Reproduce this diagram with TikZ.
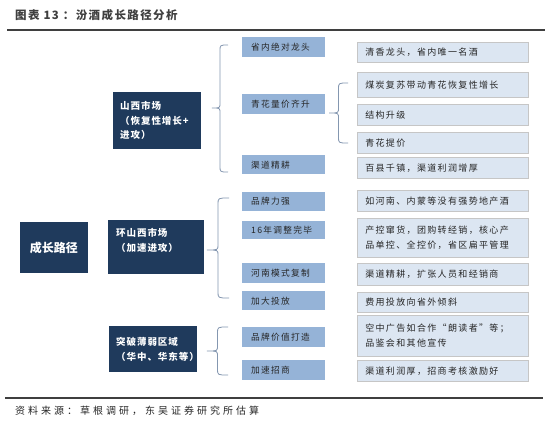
\documentclass[tikz,border=0pt]{standalone}
\usepackage{fontspec}
\setmainfont{Noto Sans CJK SC}
\newfontfamily\cjkA[LetterSpace=15]{Noto Sans CJK SC}
\newfontfamily\cjkB[LetterSpace=10]{Noto Sans CJK SC}
\newfontfamily\cjkT[LetterSpace=12]{Noto Sans CJK SC}
\newfontfamily\cjkS[LetterSpace=30]{Noto Sans CJK SC}
\newfontfamily\cjkN{Noto Sans CJK SC}
\definecolor{navy}{HTML}{1F3A5C}
\definecolor{midblue}{HTML}{95B3D7}
\definecolor{lightb}{HTML}{DCE6F2}
\definecolor{txtc}{HTML}{262626}
\definecolor{bracec}{HTML}{8497B0}
\definecolor{rulec}{HTML}{3F3F3F}
\newcommand\cbrace[5]{% tip x, end x, top, mid, bottom
  \draw[bracestyle] (#2,#3) .. controls ({(#1+#2)/2},#3) .. ({(#1+#2)/2},{#3+6})
    -- ({(#1+#2)/2},{#4-5}) .. controls ({(#1+#2)/2},#4) .. (#1,#4)
    .. controls ({(#1+#2)/2},#4) .. ({(#1+#2)/2},{#4+5})
    -- ({(#1+#2)/2},{#5-6}) .. controls ({(#1+#2)/2},#5) .. (#2,#5);}
\begin{document}
\begin{tikzpicture}[x=1pt,y=-1pt,
  bracestyle/.style={draw=bracec, line width=0.8pt},
  navybox/.style={fill=navy, text=white, font=\cjkB\bfseries\fontsize{9.5}{14.5}\selectfont,
    anchor=north west, inner ysep=0pt, align=left},
  midbox/.style={fill=midblue, text=txtc, font=\cjkA\fontsize{8.7}{11}\selectfont,
    anchor=north west, inner xsep=9pt, inner ysep=0pt, text width=65pt, align=left},
  rbox/.style={fill=lightb, draw=gray!45, line width=0.6pt, text=txtc,
    font=\cjkA\fontsize{9}{15}\selectfont, anchor=north west, inner xsep=8pt,
    inner ysep=0pt, text width=155pt, align=left}]
\useasboundingbox (0,0) rectangle (550,426);
\fill[white] (0,0) rectangle (550,426);

% title and rules
\node[anchor=west, inner sep=0pt, text=rulec, font=\cjkT\bfseries\fontsize{11.5}{13}\selectfont] (title) at (15,15) {图表 13 ：汾酒成长路径分析};
\draw[rulec, line width=2pt] (7,30) -- (545,30);
\draw[rulec, line width=2pt] (5,398) -- (543,398);
\node[anchor=west, inner sep=0pt, text=txtc, font=\cjkS\fontsize{10}{12}\selectfont] (src) at (15,411) {资料来源：草根调研，东吴证券研究所估算};

% dark boxes
\node[navybox, font=\cjkN\bfseries\fontsize{12}{14}\selectfont, align=center, anchor=center,
  minimum width=68pt, minimum height=51pt, inner sep=0pt] (root) at (54,247.5) {成长路径};
\node[navybox, inner xsep=7pt, text width=74pt, minimum height=57pt] (sx) at (113,92)
  {山西市场\\（恢复性增长+\\进攻）};
\node[navybox, inner xsep=8pt, text width=80pt, minimum height=54pt] (hsx) at (108,220)
  {环山西市场\\（加速进攻）\\\mbox{}};
\node[navybox, inner xsep=7pt, text width=74pt, minimum height=46pt] (tp) at (109,326)
  {突破薄弱区域\\（华中、华东等）};

% middle boxes
\node[midbox, minimum height=20pt] (m1) at (242,37) {省内绝对龙头};
\node[midbox, minimum height=20pt] (m2) at (242,94) {青花量价齐升};
\node[midbox, minimum height=19pt] (m3) at (242,155) {渠道精耕};
\node[midbox, minimum height=19pt] (m4) at (242,192) {品牌力强};
\node[midbox, minimum height=18pt] (m5) at (242,221) {16年调整完毕};
\node[midbox, minimum height=20pt] (m6) at (242,263) {河南模式复制};
\node[midbox, minimum height=19pt] (m7) at (242,291) {加大投放};
\node[midbox, minimum height=20pt] (m8) at (242,327) {品牌价值打造};
\node[midbox, minimum height=20pt] (m9) at (242,360) {加速招商};

% right boxes
\node[rbox, minimum height=20pt] (r1) at (357,42) {清香龙头，省内唯一名酒};
\node[rbox, minimum height=25pt] (r2) at (357,72) {煤炭复苏带动青花恢复性增长};
\node[rbox, minimum height=21pt] (r3) at (357,104) {结构升级};
\node[rbox, minimum height=21pt] (r4) at (357,132) {青花提价};
\node[rbox, minimum height=21pt] (r5) at (357,157) {百县千镇，渠道利润增厚};
\node[rbox, minimum height=21pt] (r6) at (357,190) {如河南、内蒙等没有强势地产酒};
\node[rbox, minimum height=39pt] (r7) at (357,218) {产控窜货，团购转经销，核心产\\品单控、全控价，省区扁平管理};
\node[rbox, minimum height=22pt] (r8) at (357,263) {渠道精耕，扩张人员和经销商};
\node[rbox, minimum height=20pt] (r9) at (357,292) {费用投放向省外倾斜};
\node[rbox, minimum height=41pt] (r10) at (357,315) {空中广告如合作“朗读者”等；\\品鉴会和其他宣传};
\node[rbox, minimum height=21pt] (r11) at (357,360) {渠道利润厚，招商考核激励好};

% braces
\cbrace{212}{228}{45}{108}{172}
\cbrace{329}{348}{83}{113}{143}
\cbrace{207}{229}{198}{250}{298}
\cbrace{207}{228}{327}{351}{375}
\end{tikzpicture}
\end{document}
